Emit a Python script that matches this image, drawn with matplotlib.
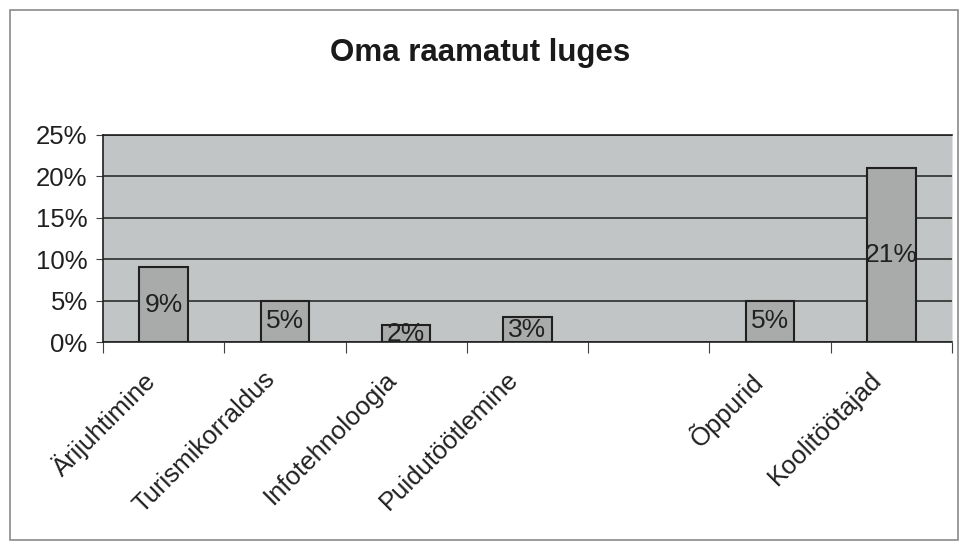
import matplotlib
matplotlib.use('Agg')
import matplotlib.pyplot as plt
from matplotlib.patches import Rectangle
from matplotlib.ticker import FuncFormatter, FixedLocator
import numpy as np

# andmed
categories = ['Ärijuhtimine', 'Turismikorraldus', 'Infotehnoloogia',
              'Puidutöötlemine', '', 'Õppurid', 'Koolitöötajad']
values = [0.09, 0.05, 0.02, 0.03, np.nan, 0.05, 0.21]
value_labels = ['9%', '5%', '2%', '3%', '', '5%', '21%']
y_ticks = [0, 0.05, 0.10, 0.15, 0.20, 0.25]

plt.rcParams['font.family'] = ['Liberation Sans', 'DejaVu Sans']

fig = plt.figure(figsize=(9.6, 5.44), dpi=100)
fig.patch.set_facecolor('white')

# kaart ümber graafiku
fig.patches.append(Rectangle((10 / 960, 4 / 544), 948 / 960, 530 / 544,
                             transform=fig.transFigure, fill=False,
                             edgecolor='#8a8a8a', linewidth=1.2))

ax = fig.add_axes([103 / 960, 202 / 544, 849 / 960, 207 / 544])
ax.set_facecolor('#c2c5c5')

x = np.arange(len(categories))
for xi, v, lab in zip(x, values, value_labels):
    if np.isnan(v):
        continue
    ax.bar(xi, v, width=0.4, color='#a9abab', edgecolor='#202020',
           linewidth=1.5, zorder=3)
    ax.text(xi, v / 2, lab, ha='center', va='center', fontsize=19,
            color='#202020', zorder=4)

ax.set_xlim(-0.5, len(categories) - 0.5)
ax.set_ylim(0, 0.25)
ax.yaxis.set_major_locator(FixedLocator(y_ticks))
ax.yaxis.set_major_formatter(FuncFormatter(lambda v, p: f'{v * 100:.0f}%'))
ax.grid(axis='y', color='#202020', linewidth=1.1, zorder=1)
ax.set_axisbelow(True)

# x-telje kriipsud kategooriate vahel, sildid veidi vasakule nihutatud
ax.set_xticks(np.arange(-0.5, len(categories)), minor=False)
ax.set_xticklabels([])
ax.set_xticks(x - 0.18, minor=True)
ax.set_xticklabels(categories, minor=True, rotation=45, ha='right',
                   rotation_mode='anchor', fontsize=18.5, color='#202020')
ax.tick_params(axis='x', which='major', direction='out', length=8,
               color='#404040')
ax.tick_params(axis='x', which='minor', length=0, pad=18)
ax.tick_params(axis='y', direction='out', length=5, labelsize=18.5,
               labelcolor='#202020', color='#404040', pad=6)

for side in ['top', 'left', 'bottom']:
    ax.spines[side].set_color('#202020')
    ax.spines[side].set_linewidth(1.2)
ax.spines['right'].set_color('#e0e0e0')

fig.text(0.5, 0.902, 'Oma raamatut luges', ha='center', va='center',
         fontsize=22.5, fontweight='bold', color='#1a1a1a')

fig.savefig('out.png', dpi=100)
